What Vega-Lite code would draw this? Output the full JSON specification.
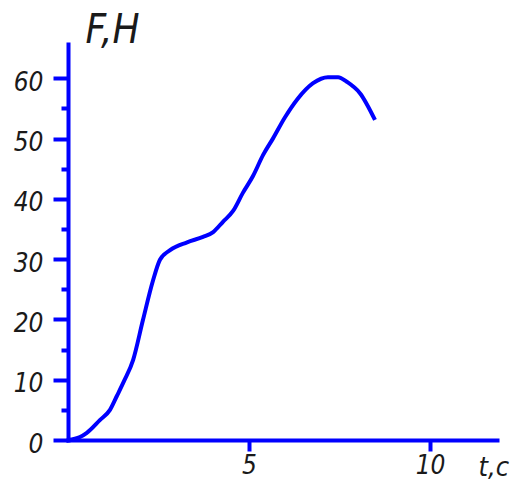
{
  "$schema": "https://vega.github.io/schema/vega-lite/v6.json",
  "autosize": "none",
  "padding": {"left": 68, "top": 44, "right": 33, "bottom": 41},
  "width": 429,
  "height": 396,
  "background": "white",
  "config": {"view": {"stroke": null}},
  "data": {"values": [
    {"t": 0, "F": 0},
    {"t": 0.33, "F": 0.5},
    {"t": 0.52, "F": 1.2},
    {"t": 0.88, "F": 3.3},
    {"t": 1.16, "F": 5.0},
    {"t": 1.35, "F": 7.3},
    {"t": 1.55, "F": 9.8},
    {"t": 1.8, "F": 13.3},
    {"t": 2.07, "F": 19.9},
    {"t": 2.35, "F": 26.5},
    {"t": 2.54, "F": 29.9},
    {"t": 2.82, "F": 31.5},
    {"t": 3.29, "F": 32.8},
    {"t": 3.73, "F": 33.7},
    {"t": 4.01, "F": 34.5},
    {"t": 4.28, "F": 36.2},
    {"t": 4.56, "F": 38.0},
    {"t": 4.83, "F": 41.0},
    {"t": 5.11, "F": 43.8},
    {"t": 5.39, "F": 47.3},
    {"t": 5.66, "F": 50.0},
    {"t": 5.99, "F": 53.5},
    {"t": 6.33, "F": 56.5},
    {"t": 6.77, "F": 59.2},
    {"t": 7.18, "F": 60.2},
    {"t": 7.46, "F": 60.2},
    {"t": 7.71, "F": 59.4},
    {"t": 8.07, "F": 57.5},
    {"t": 8.48, "F": 53.1}
  ]},
  "mark": {"type": "line", "color": "#0000ff", "strokeWidth": 4, "interpolate": "monotone"},
  "encoding": {
    "x": {
      "field": "t", "type": "quantitative",
      "scale": {"domain": [0, 11.85], "nice": false, "zero": false},
      "axis": {
        "values": [5, 10],
        "grid": false,
        "domainColor": "#0000ff", "domainWidth": 4, "domainCap": "square",
        "tickColor": "#0000ff", "tickWidth": 4, "tickSize": 11,
        "labelFont": "DejaVu Sans Condensed, Liberation Sans", "labelFontStyle": "italic", "labelFontSize": 26,
        "labelColor": "#1a1a1a", "labelPadding": 1, "labelFlush": false,
        "title": "t,c", "titleFont": "DejaVu Sans Condensed, Liberation Sans", "titleFontStyle": "italic",
        "titleFontWeight": "normal", "titleFontSize": 27, "titleColor": "#1a1a1a",
        "titleAnchor": "start", "titleAlign": "left", "titleBaseline": "alphabetic",
        "titleX": 410, "titleY": 35
      }
    },
    "y": {
      "field": "F", "type": "quantitative",
      "scale": {"domain": [0, 65.7], "nice": false, "zero": false},
      "axis": {
        "values": [0, 5, 10, 15, 20, 25, 30, 35, 40, 45, 50, 55, 60],
        "labelExpr": "datum.value % 10 === 0 ? datum.label : ''",
        "grid": false,
        "domainColor": "#0000ff", "domainWidth": 4, "domainCap": "square",
        "tickColor": "#0000ff", "tickWidth": 4,
        "tickSize": {"condition": {"test": "datum.value % 10 === 0", "value": 15}, "value": 7},
        "labelFont": "DejaVu Sans Condensed, Liberation Sans", "labelFontStyle": "italic", "labelFontSize": 26,
        "labelColor": "#1a1a1a", "labelPadding": 10, "labelOffset": 4, "labelFlush": false,
        "title": "F,H", "titleFont": "DejaVu Sans Condensed, Liberation Sans", "titleFontStyle": "italic",
        "titleFontWeight": "normal", "titleFontSize": 40, "titleColor": "#1a1a1a",
        "titleAngle": 0, "titleAnchor": "start", "titleAlign": "left", "titleBaseline": "alphabetic",
        "titleX": 17, "titleY": -2
      }
    }
  }
}
